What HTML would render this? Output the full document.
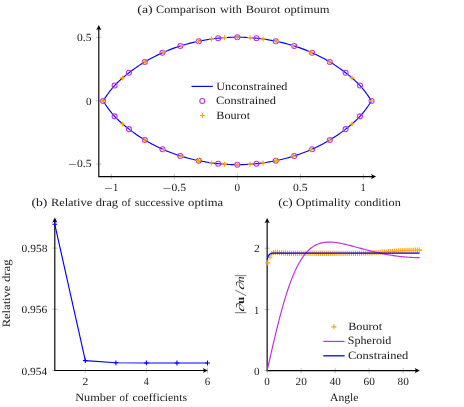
<!DOCTYPE html>
<html><head><meta charset="utf-8"><title>figure</title>
<style>
html,body{margin:0;padding:0;background:#fff;}
body{width:464px;height:407px;overflow:hidden;}
svg{display:block;will-change:transform;}
text{font-family:"Liberation Serif",serif;fill:#1a1a1a;text-rendering:geometricPrecision;}
</style></head><body>
<svg width="464" height="407" viewBox="0 0 464 407">
<rect width="464" height="407" fill="#fff"/>
<path d="M111.3 173.75V179.35M174.3 173.75V179.35M237.3 173.75V179.35M300.3 173.75V179.35M363.3 173.75V179.35M96 164.12H101.6M96 100.75H101.6M96 37.38H101.6" stroke="#7f7f7f" stroke-width="0.45" fill="none"/>
<path d="M98.8 177.12V28 M98.22 176.55H373.1" stroke="#000" stroke-width="1.15" fill="none"/>
<path d="M98.8 25 L101.4 30.2 Q98.8 28.22 96.2 30.2 Z" fill="#000"/>
<path d="M376.1 176.55 L370.9 173.95 Q372.88 176.55 370.9 179.15 Z" fill="#000"/>
<path d="M371.55 100.95 L371.21 100.43 L370.87 99.92 L370.53 99.4 L370.19 98.89 L369.85 98.39 L369.51 97.88 L369.17 97.38 L368.83 96.89 L368.49 96.39 L368.15 95.9 L367.81 95.42 L367.47 94.94 L367.13 94.46 L366.79 93.98 L366.45 93.52 L366.11 93.05 L365.77 92.59 L365.43 92.13 L365.09 91.68 L364.76 91.24 L364.42 90.79 L364.08 90.36 L363.74 89.93 L363.4 89.5 L363.06 89.08 L362.72 88.66 L362.38 88.25 L362.04 87.85 L361.7 87.45 L361.36 87.06 L361.02 86.67 L360.68 86.29 L360.34 85.92 L360 85.55 L359.66 85.19 L359.32 84.83 L358.98 84.47 L358.64 84.12 L358.3 83.77 L357.3 82.77 L355.3 80.86 L353.3 79.05 L351.3 77.33 L349.3 75.67 L347.3 74.08 L345.3 72.52 L343.3 71 L341.3 69.53 L339.3 68.1 L337.3 66.72 L335.3 65.38 L333.3 64.1 L331.3 62.85 L329.3 61.65 L327.3 60.49 L325.3 59.35 L323.3 58.25 L321.3 57.18 L319.3 56.14 L317.3 55.14 L315.3 54.18 L313.3 53.26 L311.3 52.38 L309.3 51.53 L307.3 50.7 L305.3 49.9 L303.3 49.12 L301.3 48.38 L299.3 47.66 L297.3 46.98 L295.3 46.33 L293.3 45.71 L291.3 45.11 L289.3 44.52 L287.3 43.96 L285.3 43.42 L283.3 42.9 L281.3 42.41 L279.3 41.94 L277.3 41.51 L275.3 41.11 L273.3 40.73 L271.3 40.35 L269.3 39.98 L267.3 39.63 L265.3 39.3 L263.3 38.99 L261.3 38.72 L259.3 38.47 L257.3 38.27 L255.3 38.11 L253.3 37.95 L251.3 37.79 L249.3 37.65 L247.3 37.52 L245.3 37.4 L243.3 37.3 L241.3 37.23 L239.3 37.17 L237.3 37.15 L235.3 37.17 L233.3 37.23 L231.3 37.3 L229.3 37.4 L227.3 37.52 L225.3 37.65 L223.3 37.79 L221.3 37.95 L219.3 38.11 L217.3 38.27 L215.3 38.47 L213.3 38.72 L211.3 38.99 L209.3 39.3 L207.3 39.63 L205.3 39.98 L203.3 40.35 L201.3 40.73 L199.3 41.11 L197.3 41.51 L195.3 41.94 L193.3 42.41 L191.3 42.9 L189.3 43.42 L187.3 43.96 L185.3 44.52 L183.3 45.11 L181.3 45.71 L179.3 46.33 L177.3 46.98 L175.3 47.66 L173.3 48.38 L171.3 49.12 L169.3 49.9 L167.3 50.7 L165.3 51.53 L163.3 52.38 L161.3 53.26 L159.3 54.18 L157.3 55.14 L155.3 56.14 L153.3 57.18 L151.3 58.25 L149.3 59.35 L147.3 60.49 L145.3 61.65 L143.3 62.85 L141.3 64.1 L139.3 65.38 L137.3 66.72 L135.3 68.1 L133.3 69.53 L131.3 71 L129.3 72.52 L127.3 74.08 L125.3 75.67 L123.3 77.33 L121.3 79.05 L119.3 80.86 L117.3 82.77 L116.3 83.77 L115.96 84.12 L115.62 84.47 L115.28 84.83 L114.94 85.19 L114.6 85.55 L114.26 85.92 L113.92 86.29 L113.58 86.67 L113.24 87.06 L112.9 87.45 L112.56 87.85 L112.22 88.25 L111.88 88.66 L111.54 89.08 L111.2 89.5 L110.86 89.93 L110.52 90.36 L110.18 90.79 L109.84 91.24 L109.51 91.68 L109.17 92.13 L108.83 92.59 L108.49 93.05 L108.15 93.52 L107.81 93.98 L107.47 94.46 L107.13 94.94 L106.79 95.42 L106.45 95.9 L106.11 96.39 L105.77 96.89 L105.43 97.38 L105.09 97.88 L104.75 98.39 L104.41 98.89 L104.07 99.4 L103.73 99.92 L103.39 100.43 L103.05 100.95 L103.39 101.47 L103.73 101.98 L104.07 102.5 L104.41 103.01 L104.75 103.51 L105.09 104.02 L105.43 104.52 L105.77 105.01 L106.11 105.51 L106.45 106 L106.79 106.48 L107.13 106.96 L107.47 107.44 L107.81 107.92 L108.15 108.38 L108.49 108.85 L108.83 109.31 L109.17 109.77 L109.51 110.22 L109.84 110.66 L110.18 111.11 L110.52 111.54 L110.86 111.97 L111.2 112.4 L111.54 112.82 L111.88 113.24 L112.22 113.65 L112.56 114.05 L112.9 114.45 L113.24 114.84 L113.58 115.23 L113.92 115.61 L114.26 115.98 L114.6 116.35 L114.94 116.71 L115.28 117.07 L115.62 117.43 L115.96 117.78 L116.3 118.13 L117.3 119.13 L119.3 121.04 L121.3 122.85 L123.3 124.57 L125.3 126.23 L127.3 127.82 L129.3 129.38 L131.3 130.9 L133.3 132.37 L135.3 133.8 L137.3 135.18 L139.3 136.52 L141.3 137.8 L143.3 139.05 L145.3 140.25 L147.3 141.41 L149.3 142.55 L151.3 143.65 L153.3 144.72 L155.3 145.76 L157.3 146.76 L159.3 147.72 L161.3 148.64 L163.3 149.52 L165.3 150.37 L167.3 151.2 L169.3 152 L171.3 152.78 L173.3 153.52 L175.3 154.24 L177.3 154.92 L179.3 155.57 L181.3 156.19 L183.3 156.79 L185.3 157.38 L187.3 157.94 L189.3 158.48 L191.3 159 L193.3 159.49 L195.3 159.96 L197.3 160.39 L199.3 160.79 L201.3 161.17 L203.3 161.55 L205.3 161.92 L207.3 162.27 L209.3 162.6 L211.3 162.91 L213.3 163.18 L215.3 163.43 L217.3 163.63 L219.3 163.79 L221.3 163.95 L223.3 164.11 L225.3 164.25 L227.3 164.38 L229.3 164.5 L231.3 164.6 L233.3 164.67 L235.3 164.73 L237.3 164.75 L239.3 164.73 L241.3 164.67 L243.3 164.6 L245.3 164.5 L247.3 164.38 L249.3 164.25 L251.3 164.11 L253.3 163.95 L255.3 163.79 L257.3 163.63 L259.3 163.43 L261.3 163.18 L263.3 162.91 L265.3 162.6 L267.3 162.27 L269.3 161.92 L271.3 161.55 L273.3 161.17 L275.3 160.79 L277.3 160.39 L279.3 159.96 L281.3 159.49 L283.3 159 L285.3 158.48 L287.3 157.94 L289.3 157.38 L291.3 156.79 L293.3 156.19 L295.3 155.57 L297.3 154.92 L299.3 154.24 L301.3 153.52 L303.3 152.78 L305.3 152 L307.3 151.2 L309.3 150.37 L311.3 149.52 L313.3 148.64 L315.3 147.72 L317.3 146.76 L319.3 145.76 L321.3 144.72 L323.3 143.65 L325.3 142.55 L327.3 141.41 L329.3 140.25 L331.3 139.05 L333.3 137.8 L335.3 136.52 L337.3 135.18 L339.3 133.8 L341.3 132.37 L343.3 130.9 L345.3 129.38 L347.3 127.82 L349.3 126.23 L351.3 124.57 L353.3 122.85 L355.3 121.04 L357.3 119.13 L358.3 118.13 L358.64 117.78 L358.98 117.43 L359.32 117.07 L359.66 116.71 L360 116.35 L360.34 115.98 L360.68 115.61 L361.02 115.23 L361.36 114.84 L361.7 114.45 L362.04 114.05 L362.38 113.65 L362.72 113.24 L363.06 112.82 L363.4 112.4 L363.74 111.97 L364.08 111.54 L364.42 111.11 L364.76 110.66 L365.09 110.22 L365.43 109.77 L365.77 109.31 L366.11 108.85 L366.45 108.38 L366.79 107.92 L367.13 107.44 L367.47 106.96 L367.81 106.48 L368.15 106 L368.49 105.51 L368.83 105.01 L369.17 104.52 L369.51 104.02 L369.85 103.51 L370.19 103.01 L370.53 102.5 L370.87 101.98 L371.21 101.47 L371.55 100.95Z" stroke="#0000ff" stroke-width="1.15" fill="none" stroke-linejoin="round"/>
<circle cx="237.3" cy="37.15" r="2.5" stroke="#c02ce0" stroke-width="1.05" fill="none"/>
<circle cx="237.3" cy="164.75" r="2.5" stroke="#c02ce0" stroke-width="1.05" fill="none"/>
<circle cx="218.15" cy="38.2" r="2.5" stroke="#c02ce0" stroke-width="1.05" fill="none"/>
<circle cx="218.15" cy="163.7" r="2.5" stroke="#c02ce0" stroke-width="1.05" fill="none"/>
<circle cx="256.45" cy="38.2" r="2.5" stroke="#c02ce0" stroke-width="1.05" fill="none"/>
<circle cx="256.45" cy="163.7" r="2.5" stroke="#c02ce0" stroke-width="1.05" fill="none"/>
<circle cx="198.85" cy="41.2" r="2.5" stroke="#c02ce0" stroke-width="1.05" fill="none"/>
<circle cx="198.85" cy="160.7" r="2.5" stroke="#c02ce0" stroke-width="1.05" fill="none"/>
<circle cx="275.75" cy="41.2" r="2.5" stroke="#c02ce0" stroke-width="1.05" fill="none"/>
<circle cx="275.75" cy="160.7" r="2.5" stroke="#c02ce0" stroke-width="1.05" fill="none"/>
<circle cx="180.35" cy="46" r="2.5" stroke="#c02ce0" stroke-width="1.05" fill="none"/>
<circle cx="180.35" cy="155.9" r="2.5" stroke="#c02ce0" stroke-width="1.05" fill="none"/>
<circle cx="294.25" cy="46" r="2.5" stroke="#c02ce0" stroke-width="1.05" fill="none"/>
<circle cx="294.25" cy="155.9" r="2.5" stroke="#c02ce0" stroke-width="1.05" fill="none"/>
<circle cx="162.45" cy="52.75" r="2.5" stroke="#c02ce0" stroke-width="1.05" fill="none"/>
<circle cx="162.45" cy="149.15" r="2.5" stroke="#c02ce0" stroke-width="1.05" fill="none"/>
<circle cx="312.15" cy="52.75" r="2.5" stroke="#c02ce0" stroke-width="1.05" fill="none"/>
<circle cx="312.15" cy="149.15" r="2.5" stroke="#c02ce0" stroke-width="1.05" fill="none"/>
<circle cx="144.8" cy="61.95" r="2.5" stroke="#c02ce0" stroke-width="1.05" fill="none"/>
<circle cx="144.8" cy="139.95" r="2.5" stroke="#c02ce0" stroke-width="1.05" fill="none"/>
<circle cx="329.8" cy="61.95" r="2.5" stroke="#c02ce0" stroke-width="1.05" fill="none"/>
<circle cx="329.8" cy="139.95" r="2.5" stroke="#c02ce0" stroke-width="1.05" fill="none"/>
<circle cx="129" cy="72.75" r="2.5" stroke="#c02ce0" stroke-width="1.05" fill="none"/>
<circle cx="129" cy="129.15" r="2.5" stroke="#c02ce0" stroke-width="1.05" fill="none"/>
<circle cx="345.6" cy="72.75" r="2.5" stroke="#c02ce0" stroke-width="1.05" fill="none"/>
<circle cx="345.6" cy="129.15" r="2.5" stroke="#c02ce0" stroke-width="1.05" fill="none"/>
<circle cx="114.6" cy="85.55" r="2.5" stroke="#c02ce0" stroke-width="1.05" fill="none"/>
<circle cx="114.6" cy="116.35" r="2.5" stroke="#c02ce0" stroke-width="1.05" fill="none"/>
<circle cx="360" cy="85.55" r="2.5" stroke="#c02ce0" stroke-width="1.05" fill="none"/>
<circle cx="360" cy="116.35" r="2.5" stroke="#c02ce0" stroke-width="1.05" fill="none"/>
<circle cx="103.05" cy="100.95" r="2.5" stroke="#c02ce0" stroke-width="1.05" fill="none"/>
<circle cx="371.55" cy="100.95" r="2.5" stroke="#c02ce0" stroke-width="1.05" fill="none"/>
<path d="M234.8 37.15H239.8M237.3 34.65V39.65M234.8 164.75H239.8M237.3 162.25V167.25M222 37.71H227M224.5 35.21V40.21M222 164.19H227M224.5 161.69V166.69M247.6 37.71H252.6M250.1 35.21V40.21M247.6 164.19H252.6M250.1 161.69V166.69M209 38.96H214M211.5 36.46V41.46M209 162.94H214M211.5 160.44V165.44M260.6 38.96H265.6M263.1 36.46V41.46M260.6 162.94H265.6M263.1 160.44V165.44M195.9 41.29H200.9M198.4 38.79V43.79M195.9 160.61H200.9M198.4 158.11V163.11M273.7 41.29H278.7M276.2 38.79V43.79M273.7 160.61H278.7M276.2 158.11V163.11M178.8 45.71H183.8M181.3 43.21V48.21M178.8 156.19H183.8M181.3 153.69V158.69M290.8 45.71H295.8M293.3 43.21V48.21M290.8 156.19H295.8M293.3 153.69V158.69M161.2 52.21H166.2M163.7 49.71V54.71M161.2 149.69H166.2M163.7 147.19V152.19M308.4 52.21H313.4M310.9 49.71V54.71M308.4 149.69H313.4M310.9 147.19V152.19M142.4 61.89H147.4M144.9 59.39V64.39M142.4 140.01H147.4M144.9 137.51V142.51M327.2 61.89H332.2M329.7 59.39V64.39M327.2 140.01H332.2M329.7 137.51V142.51M120.1 77.92H125.1M122.6 75.42V80.42M120.1 123.98H125.1M122.6 121.48V126.48M349.5 77.92H354.5M352 75.42V80.42M349.5 123.98H354.5M352 121.48V126.48M100.55 100.95H105.55M103.05 98.45V103.45M100.55 100.95H105.55M103.05 98.45V103.45M369.05 100.95H374.05M371.55 98.45V103.45M369.05 100.95H374.05M371.55 98.45V103.45" stroke="#ffa500" stroke-width="1.2" fill="none"/>
<path d="M191.5 86.4H212.9" stroke="#0000ff" stroke-width="1.15"/>
<circle cx="202.3" cy="101.05" r="2.5" stroke="#c02ce0" stroke-width="1.05" fill="none"/>
<path d="M199.9 115.5H204.9M202.4 113V118" stroke="#ffa500" stroke-width="1.2" fill="none"/>
<text transform="translate(216.28 89.8) scale(1.0905 1)" font-size="11.2">Unconstrained</text>
<text transform="translate(216.06 104.4) scale(1.1096 1)" font-size="11.2">Constrained</text>
<text transform="translate(216.27 118.7) scale(1.0877 1)" font-size="11.2">Bourot</text>
<text transform="translate(137.31 13.4) scale(1.2372 1)" font-size="11.2">(a)</text>
<text transform="translate(156.02 13.4) scale(1.0925 1)" font-size="11.2">Comparison</text>
<text transform="translate(220.04 13.4) scale(1.0964 1)" font-size="11.2">with</text>
<text transform="translate(245.74 13.4) scale(1.1134 1)" font-size="11.2">Bourot</text>
<text transform="translate(284.22 13.4) scale(1.1225 1)" font-size="11.2">optimum</text>
<path d="M104.94 188.44H111.94" stroke="#1a1a1a" stroke-width="0.55" fill="none"/>
<text transform="translate(113.03 191.3) scale(0.9550 1)" font-size="11.0">1</text>
<path d="M163.49 188.44H170.49" stroke="#1a1a1a" stroke-width="0.55" fill="none"/>
<text transform="translate(171.50 191.3) scale(1.0548 1)" font-size="11.0">0.5</text>
<text transform="translate(234.51 191.3) scale(1.0128 1)" font-size="11.0">0</text>
<text transform="translate(293.05 191.3) scale(1.0548 1)" font-size="11.0">0.5</text>
<text transform="translate(360.58 191.3) scale(0.9550 1)" font-size="11.0">1</text>
<path d="M68.98 164.44H75.98" stroke="#1a1a1a" stroke-width="0.55" fill="none"/>
<text transform="translate(76.99 167.3) scale(1.0548 1)" font-size="11.0">0.5</text>
<text transform="translate(85.90 104.6) scale(1.0128 1)" font-size="11.0">0</text>
<text transform="translate(76.99 41.45) scale(1.0548 1)" font-size="11.0">0.5</text>
<path d="M85.34 367.7V373.3M146.42 367.7V373.3M207.5 367.7V373.3M52 370.5H57.6M52 309.3H57.6M52 248.1H57.6" stroke="#7f7f7f" stroke-width="0.45" fill="none"/>
<path d="M54.8 371.07V220.5 M54.22 370.5H204.9" stroke="#000" stroke-width="1.15" fill="none"/>
<path d="M54.8 217.5 L57.4 222.7 Q54.8 220.72 52.2 222.7 Z" fill="#000"/>
<path d="M207.9 370.5 L202.7 367.9 Q204.68 370.5 202.7 373.1 Z" fill="#000"/>
<path d="M54.8 224.3 L85.34 360.6 L115.88 362.8 L146.42 362.95 L176.96 363 L207.5 363" stroke="#0000ff" stroke-width="1.15" fill="none" stroke-linejoin="round"/>
<path d="M52.4 224.3H57.2M54.8 221.9V226.7M82.94 360.6H87.74M85.34 358.2V363M113.48 362.8H118.28M115.88 360.4V365.2M144.02 362.95H148.82M146.42 360.55V365.35M174.56 363H179.36M176.96 360.6V365.4M205.1 363H209.9M207.5 360.6V365.4" stroke="#0000ff" stroke-width="1.1" fill="none"/>
<text transform="translate(31.41 205.5) scale(1.2264 1)" font-size="11.2">(b)</text>
<text transform="translate(50.88 205.5) scale(1.1089 1)" font-size="11.2">Relative</text>
<text transform="translate(95.71 205.5) scale(1.1279 1)" font-size="11.2">drag</text>
<text transform="translate(121.85 205.5) scale(0.9681 1)" font-size="11.2">of</text>
<text transform="translate(134.85 205.5) scale(1.0522 1)" font-size="11.2">successive</text>
<text transform="translate(188.05 205.5) scale(1.1325 1)" font-size="11.2">optima</text>
<text transform="translate(82.54 385) scale(1.0578 1)" font-size="11.0">2</text>
<text transform="translate(143.86 385) scale(0.9154 1)" font-size="11.0">4</text>
<text transform="translate(204.72 385) scale(0.9917 1)" font-size="11.0">6</text>
<text transform="translate(21.51 374.6) scale(1.0351 1)" font-size="11.0">0.954</text>
<text transform="translate(21.50 313.4) scale(1.0437 1)" font-size="11.0">0.956</text>
<text transform="translate(21.50 252.2) scale(1.0480 1)" font-size="11.0">0.958</text>
<text transform="translate(75.17 400.8) scale(1.1025 1)" font-size="11.2">Number</text>
<text transform="translate(119.52 400.8) scale(0.9674 1)" font-size="11.2">of</text>
<text transform="translate(132.50 400.8) scale(1.0488 1)" font-size="11.2">coefficients</text>
<g transform="translate(10.2 327.0) rotate(-90)">
<text transform="translate(-0.34 0) scale(1.1204 1)" font-size="11.2">Relative</text>
<text transform="translate(44.93 0) scale(1.1457 1)" font-size="11.2">drag</text>
</g>
<path d="M267.15 367.8V373.4M301.15 367.8V373.4M335.15 367.8V373.4M369.15 367.8V373.4M403.15 367.8V373.4M264.35 370.6H269.95M264.35 309.4H269.95M264.35 248.2H269.95" stroke="#7f7f7f" stroke-width="0.45" fill="none"/>
<path d="M267.15 371.18V221 M266.57 370.6H416.85" stroke="#000" stroke-width="1.15" fill="none"/>
<path d="M267.15 218 L269.75 223.2 Q267.15 221.22 264.55 223.2 Z" fill="#000"/>
<path d="M419.85 370.6 L414.65 368 Q416.63 370.6 414.65 373.2 Z" fill="#000"/>
<path d="M265.15 262.9H270.35M267.75 260.3V265.5M267.3 257.25H272.5M269.9 254.65V259.85M269.15 253.7H274.35M271.75 251.1V256.3M270.9 252.5H276.1M273.5 249.9V255.1M272.9 252.4H278.1M275.5 249.8V255M274.9 252.4H280.1M277.5 249.8V255M276.9 252.6H282.1M279.5 250V255.2M278.9 252.8H284.1M281.5 250.2V255.4M280.9 253.05H286.1M283.5 250.45V255.65M282.9 253.2H288.1M285.5 250.6V255.8M284.9 253.35H290.1M287.5 250.75V255.95M286.9 253.4H292.1M289.5 250.8V256M288.9 253.4H294.1M291.5 250.8V256M290.96 253.4H296.16M293.56 250.8V256M293.03 253.4H298.23M295.63 250.8V256M295.09 253.4H300.29M297.69 250.8V256M297.15 253.4H302.35M299.75 250.8V256M299.21 253.4H304.41M301.81 250.8V256M301.28 253.4H306.48M303.88 250.8V256M303.34 253.4H308.54M305.94 250.8V256M305.4 253.4H310.6M308 250.8V256M307.47 253.4H312.67M310.07 250.8V256M309.53 253.4H314.73M312.13 250.8V256M311.59 253.4H316.79M314.19 250.8V256M313.65 253.4H318.85M316.25 250.8V256M315.72 253.3H320.92M318.32 250.7V255.9M317.78 253.3H322.98M320.38 250.7V255.9M319.84 253.3H325.04M322.44 250.7V255.9M321.91 253.3H327.11M324.51 250.7V255.9M323.97 253.3H329.17M326.57 250.7V255.9M326.03 253.3H331.23M328.63 250.7V255.9M328.1 253.3H333.3M330.7 250.7V255.9M330.16 253.3H335.36M332.76 250.7V255.9M332.22 253.3H337.42M334.82 250.7V255.9M334.28 253.3H339.48M336.88 250.7V255.9M336.35 253.3H341.55M338.95 250.7V255.9M338.41 253.3H343.61M341.01 250.7V255.9M340.47 253.3H345.67M343.07 250.7V255.9M342.54 253.3H347.74M345.14 250.7V255.9M344.6 253.3H349.8M347.2 250.7V255.9M346.66 253.3H351.86M349.26 250.7V255.9M348.72 253.3H353.92M351.32 250.7V255.9M350.79 253.3H355.99M353.39 250.7V255.9M352.85 253.3H358.05M355.45 250.7V255.9M354.91 253.29H360.11M357.51 250.69V255.89M356.98 253.26H362.18M359.58 250.66V255.86M359.04 253.22H364.24M361.64 250.62V255.82M361.1 253.16H366.3M363.7 250.56V255.76M363.16 253.08H368.36M365.76 250.48V255.68M365.23 252.99H370.43M367.83 250.39V255.59M367.29 252.89H372.49M369.89 250.29V255.49M369.35 252.78H374.55M371.95 250.18V255.38M371.42 252.66H376.62M374.02 250.06V255.26M373.48 252.53H378.68M376.08 249.93V255.13M375.54 252.39H380.74M378.14 249.79V254.99M377.6 252.25H382.8M380.2 249.65V254.85M379.67 252.1H384.87M382.27 249.5V254.7M381.73 251.95H386.93M384.33 249.35V254.55M383.79 251.8H388.99M386.39 249.2V254.4M385.86 251.64H391.06M388.46 249.04V254.24M387.92 251.49H393.12M390.52 248.89V254.09M389.98 251.34H395.18M392.58 248.74V253.94M392.05 251.19H397.25M394.65 248.59V253.79M394.11 251.05H399.31M396.71 248.45V253.65M396.17 250.91H401.37M398.77 248.31V253.51M398.23 250.78H403.43M400.83 248.18V253.38M400.3 250.66H405.5M402.9 248.06V253.26M402.36 250.55H407.56M404.96 247.95V253.15M404.42 250.45H409.62M407.02 247.85V253.05M406.49 250.36H411.69M409.09 247.76V252.96M408.55 250.29H413.75M411.15 247.69V252.89M410.61 250.23H415.81M413.21 247.63V252.83M412.67 250.18H417.87M415.27 247.58V252.78M414.74 250.16H419.94M417.34 247.56V252.76M416.8 250.15H422M419.4 247.55V252.75" stroke="#ffa500" stroke-width="1.1" fill="none"/>
<path d="M267.15 370.6 L268 366.83 L268.85 363.06 L269.7 359.3 L270.55 355.56 L271.4 351.84 L272.26 348.15 L273.11 344.48 L273.96 340.85 L274.81 337.26 L275.66 333.71 L276.51 330.21 L277.36 326.76 L278.21 323.37 L279.06 320.04 L279.91 316.76 L280.77 313.56 L281.62 310.42 L282.47 307.35 L283.32 304.35 L284.17 301.43 L285.02 298.58 L285.87 295.81 L286.72 293.12 L287.57 290.51 L288.42 287.97 L289.27 285.52 L290.13 283.15 L290.98 280.87 L291.83 278.66 L292.68 276.53 L293.53 274.48 L294.38 272.51 L295.23 270.62 L296.08 268.81 L296.93 267.08 L297.78 265.42 L298.64 263.83 L299.49 262.31 L300.34 260.87 L301.19 259.5 L302.04 258.19 L302.89 256.95 L303.74 255.78 L304.59 254.67 L305.44 253.62 L306.29 252.63 L307.14 251.69 L308 250.81 L308.85 249.99 L309.7 249.22 L310.55 248.5 L311.4 247.82 L312.25 247.2 L313.1 246.62 L313.95 246.08 L314.8 245.58 L315.65 245.12 L316.51 244.71 L317.36 244.33 L318.21 243.98 L319.06 243.67 L319.91 243.39 L320.76 243.14 L321.61 242.92 L322.46 242.73 L323.31 242.57 L324.16 242.43 L325.01 242.32 L325.87 242.23 L326.72 242.16 L327.57 242.11 L328.42 242.08 L329.27 242.07 L330.12 242.08 L330.97 242.11 L331.82 242.15 L332.67 242.21 L333.52 242.28 L334.38 242.37 L335.23 242.46 L336.08 242.57 L336.93 242.69 L337.78 242.82 L338.63 242.96 L339.48 243.11 L340.33 243.27 L341.18 243.44 L342.03 243.61 L342.88 243.79 L343.74 243.98 L344.59 244.17 L345.44 244.37 L346.29 244.57 L347.14 244.78 L347.99 244.99 L348.84 245.2 L349.69 245.42 L350.54 245.64 L351.39 245.86 L352.24 246.09 L353.1 246.31 L353.95 246.54 L354.8 246.77 L355.65 247 L356.5 247.23 L357.35 247.46 L358.2 247.69 L359.05 247.93 L359.9 248.16 L360.75 248.39 L361.61 248.62 L362.46 248.85 L363.31 249.08 L364.16 249.31 L365.01 249.53 L365.86 249.76 L366.71 249.98 L367.56 250.2 L368.41 250.42 L369.26 250.64 L370.11 250.86 L370.97 251.07 L371.82 251.28 L372.67 251.49 L373.52 251.69 L374.37 251.9 L375.22 252.1 L376.07 252.3 L376.92 252.49 L377.77 252.68 L378.62 252.87 L379.48 253.06 L380.33 253.24 L381.18 253.42 L382.03 253.6 L382.88 253.77 L383.73 253.94 L384.58 254.1 L385.43 254.27 L386.28 254.43 L387.13 254.58 L387.98 254.73 L388.84 254.88 L389.69 255.03 L390.54 255.17 L391.39 255.3 L392.24 255.44 L393.09 255.57 L393.94 255.69 L394.79 255.82 L395.64 255.93 L396.49 256.05 L397.35 256.16 L398.2 256.27 L399.05 256.37 L399.9 256.47 L400.75 256.56 L401.6 256.65 L402.45 256.74 L403.3 256.82 L404.15 256.9 L405 256.98 L405.85 257.05 L406.71 257.11 L407.56 257.18 L408.41 257.23 L409.26 257.29 L410.11 257.34 L410.96 257.39 L411.81 257.43 L412.66 257.47 L413.51 257.5 L414.36 257.53 L415.22 257.56 L416.07 257.58 L416.92 257.6 L417.77 257.61 L418.62 257.62 L419.47 257.62" stroke="#c02ce0" stroke-width="1.15" fill="none" stroke-linejoin="round"/>
<path d="M267.15 259.6 L267.5 258.27 L267.85 257.2 L268.2 256.36 L268.54 255.68 L268.89 255.15 L269.24 254.72 L269.59 254.38 L269.94 254.11 L270.29 253.89 L270.64 253.72 L270.99 253.58 L271.33 253.48 L271.68 253.39 L272.03 253.32 L272.38 253.26 L272.73 253.22 L273.08 253.19 L273.43 253.16 L273.78 253.14 L274.12 253.12 L274.47 253.1 L274.82 253.09 L275.17 253.08 L275.52 253.08 L275.87 253.07 L276.22 253.07 L276.57 253.06 L276.91 253.06 L277.26 253.06 L277.61 253.06 L277.96 253.06 L278.31 253.05 L278.66 253.05 L279.01 253.05 L279.36 253.05 L279.7 253.05 L280.05 253.05 L280.4 253.05 L280.75 253.05 L281.09 253.05 L283.44 253.05 L285.78 253.05 L288.13 253.05 L290.47 253.05 L292.82 253.05 L295.16 253.05 L297.51 253.05 L299.85 253.05 L302.2 253.05 L304.54 253.05 L306.89 253.05 L309.24 253.05 L311.58 253.05 L313.93 253.05 L316.27 253.05 L318.62 253.05 L320.96 253.05 L323.31 253.05 L325.65 253.05 L328 253.05 L330.34 253.05 L332.69 253.05 L335.03 253.05 L337.38 253.05 L339.73 253.05 L342.07 253.05 L344.42 253.05 L346.76 253.05 L349.11 253.05 L351.45 253.05 L353.8 253.05 L356.14 253.05 L358.49 253.05 L360.83 253.05 L363.18 253.05 L365.53 253.05 L367.87 253.05 L370.22 253.05 L372.56 253.05 L374.91 253.05 L377.25 253.05 L379.6 253.05 L381.94 253.05 L384.29 253.05 L386.63 253.05 L388.98 253.05 L391.32 253.05 L393.67 253.05 L396.02 253.05 L398.36 253.05 L400.71 253.05 L403.05 253.05 L405.4 253.05 L407.74 253.05 L410.09 253.05 L412.43 253.05 L414.78 253.05 L417.12 253.05 L419.47 253.05" stroke="#0000ff" stroke-width="1.2" fill="none" stroke-linejoin="round"/>
<path d="M331.4 326.8H336.4M333.9 324.3V329.3" stroke="#ffa500" stroke-width="1.2" fill="none"/>
<path d="M323.3 341.4H344.6" stroke="#c02ce0" stroke-width="1.15"/>
<path d="M323.3 355.8H344.6" stroke="#0000ff" stroke-width="1.3"/>
<text transform="translate(348.17 329.9) scale(1.0909 1)" font-size="11.2">Bourot</text>
<text transform="translate(347.74 344.3) scale(1.0797 1)" font-size="11.2">Spheroid</text>
<text transform="translate(348.05 359.2) scale(1.1152 1)" font-size="11.2">Constrained</text>
<text transform="translate(278.13 205.5) scale(1.1751 1)" font-size="11.2">(c)</text>
<text transform="translate(296.07 205.5) scale(1.1237 1)" font-size="11.2">Optimality</text>
<text transform="translate(354.45 205.5) scale(1.0959 1)" font-size="11.2">condition</text>
<text transform="translate(264.36 385) scale(1.0128 1)" font-size="11.0">0</text>
<text transform="translate(295.50 385) scale(1.0275 1)" font-size="11.0">20</text>
<text transform="translate(329.71 385) scale(1.0077 1)" font-size="11.0">40</text>
<text transform="translate(363.50 385) scale(1.0275 1)" font-size="11.0">60</text>
<text transform="translate(397.50 385) scale(1.0275 1)" font-size="11.0">80</text>
<text transform="translate(254.05 374.7) scale(1.0128 1)" font-size="11.0">0</text>
<text transform="translate(254.12 313.5) scale(0.9550 1)" font-size="11.0">1</text>
<text transform="translate(254.04 252.3) scale(1.0578 1)" font-size="11.0">2</text>
<text transform="translate(330.00 400.8) scale(1.0372 1)" font-size="11.2">Angle</text>
<path d="M234.85 312.7H246.35M234.85 275.7H246.35M246.3 295.8L235.1 290" stroke="#1a1a1a" stroke-width="0.6" fill="none"/>
<g transform="translate(243.6 314.3) rotate(-90)">
<text transform="translate(1.99 0) scale(1.3750 1) skewX(-14)" font-size="11.2" font-style="italic">∂</text>
<text transform="translate(10.18 0) scale(1.1695 1)" font-size="11.2" font-weight="bold">u</text>
<text transform="translate(24.09 0) scale(1.3542 1) skewX(-14)" font-size="11.2" font-style="italic">∂</text>
<text transform="translate(31.87 0) scale(1.0833 1)" font-size="11.2" font-style="italic">n</text>
</g>
</svg>
</body></html>
